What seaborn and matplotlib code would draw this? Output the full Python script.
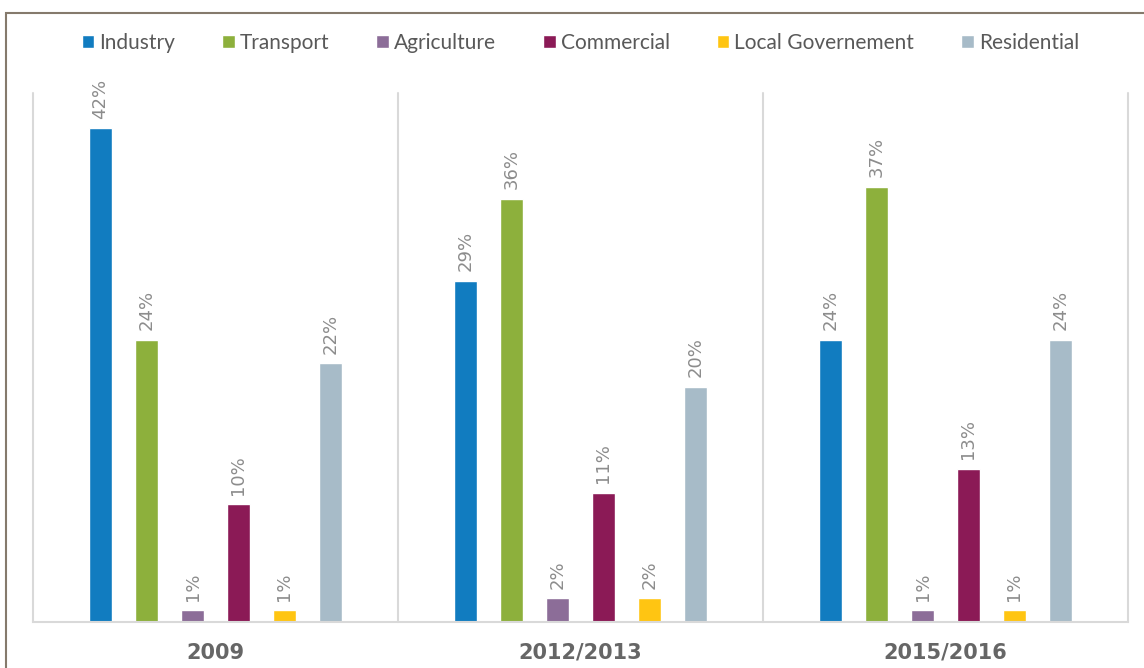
import numpy as np
import pandas as pd
import seaborn as sns
import matplotlib.pyplot as plt
from matplotlib.patches import Rectangle

periods = ["2009", "2012/2013", "2015/2016"]
sectors = ["Industry", "Transport", "Agriculture", "Commercial",
           "Local Governement", "Residential"]
industry = [42, 29, 24]
transport = [24, 36, 37]
agriculture = [1, 2, 1]
commercial = [10, 11, 13]
local_gov = [1, 2, 1]
residential = [22, 20, 24]

colors = ["#117CC0", "#8DB03C", "#8C6D98", "#8B1A56", "#FFC512", "#A7BBC8"]

series = [industry, transport, agriculture, commercial, local_gov, residential]
rows = []
for sector, vals in zip(sectors, series):
    for period, v in zip(periods, vals):
        rows.append({"period": period, "sector": sector, "share": v})
df = pd.DataFrame(rows)

sns.set_theme(style="white")
plt.rcParams["font.family"] = ["Lato", "DejaVu Sans"]

fig = plt.figure(figsize=(11.44, 6.68), dpi=100)
ax = fig.add_axes([33 / 1144, 1 - 622 / 668, 1095 / 1144, 529 / 668])

sns.barplot(data=df, x="period", y="share", hue="sector",
            order=periods, hue_order=sectors,
            palette=dict(zip(sectors, colors)),
            width=0.756, gap=0.48, saturation=1, errorbar=None,
            legend=True, ax=ax)

for cont in ax.containers:
    ax.bar_label(cont, fmt="%d%%", rotation=90, padding=7,
                 color="#8C8C8C", fontsize=13, family="DejaVu Sans")

ax.set_xlim(-0.5, 2.5)
ax.set_ylim(0, 45)
ax.set_xlabel("")
ax.set_ylabel("")
ax.set_yticks([])
ax.tick_params(axis="x", length=0, pad=15)
for lab in ax.get_xticklabels():
    lab.set_family("DejaVu Sans")
    lab.set_fontweight("bold")
    lab.set_fontsize(15)
    lab.set_color("#666666")

for s in ["top", "left", "right"]:
    ax.spines[s].set_visible(False)
ax.spines["bottom"].set_color("#D9D9D9")
ax.spines["bottom"].set_linewidth(1.5)

for xv in [-0.5, 0.5, 1.5, 2.5]:
    ax.axvline(xv, color="#D9D9D9", lw=1.5, zorder=0, clip_on=False)

handles, labels = ax.get_legend_handles_labels()
ax.get_legend().remove()
fig.legend(handles, labels, loc="center", bbox_to_anchor=(580.5 / 1144, 1 - 43 / 668),
           ncol=6, frameon=False, fontsize=15, handlelength=0.6, handleheight=0.6,
           handletextpad=0.25, columnspacing=2.25, labelcolor="#595959")

fig.patches.append(Rectangle((6 / 1144, -0.1), 1.2, 1.1 - 13 / 668,
                             transform=fig.transFigure, fill=False,
                             edgecolor="#857A6C", lw=1.5))

fig.savefig("out.png", dpi=100)
